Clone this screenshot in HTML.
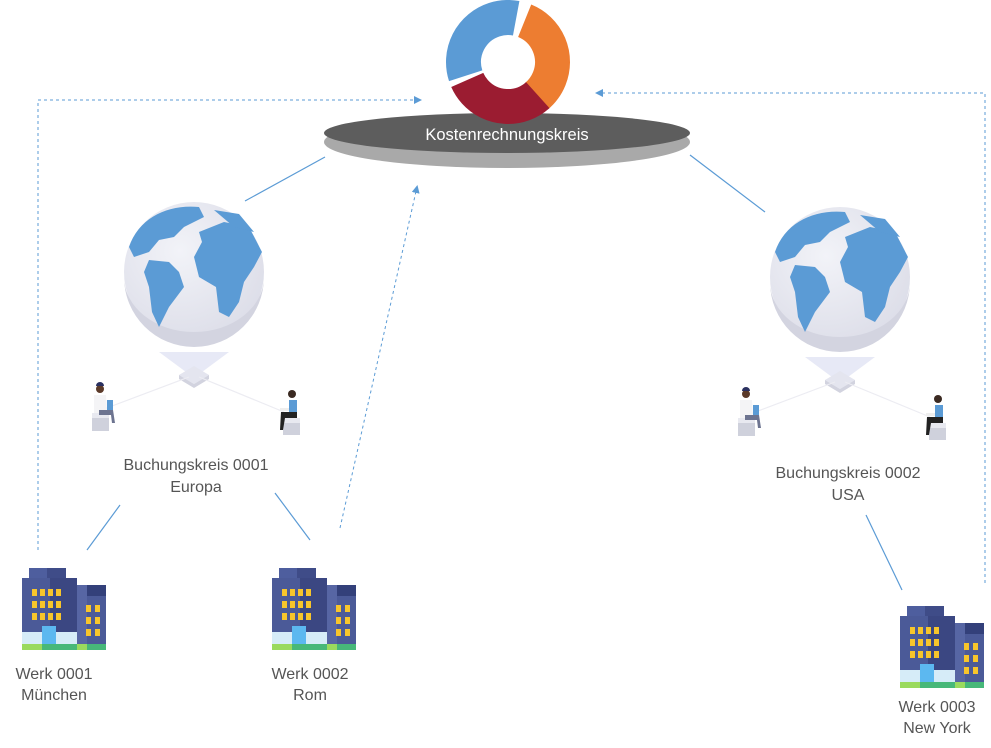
<!DOCTYPE html>
<html><head><meta charset="utf-8"><style>
html,body{margin:0;padding:0;background:#fff;}
svg{display:block;}
text{font-family:"Liberation Sans",sans-serif;}
</style></head><body>
<svg width="991" height="748" viewBox="0 0 991 748" xmlns="http://www.w3.org/2000/svg">
<defs>
<marker id="ar" markerWidth="8" markerHeight="8" refX="6" refY="4" orient="auto" markerUnits="userSpaceOnUse">
<path d="M0,0 L8,4 L0,8 z" fill="#5b9bd5"/></marker>
<g id="bld">
<rect x="7" y="0" width="18" height="11" fill="#4e5e9e"/><rect x="25" y="0" width="19" height="11" fill="#3f4c88"/>
<rect x="0" y="10" width="28" height="66" fill="#4b5a98"/><rect x="28" y="10" width="27" height="66" fill="#3b4782"/>
<g fill="#f7c52b">
<rect x="10" y="21" width="5" height="7"/><rect x="18" y="21" width="5" height="7"/><rect x="26" y="21" width="5" height="7"/><rect x="34" y="21" width="5" height="7"/>
<rect x="10" y="33" width="5" height="7"/><rect x="18" y="33" width="5" height="7"/><rect x="26" y="33" width="5" height="7"/><rect x="34" y="33" width="5" height="7"/>
<rect x="10" y="45" width="5" height="7"/><rect x="18" y="45" width="5" height="7"/><rect x="26" y="45" width="5" height="7"/><rect x="34" y="45" width="5" height="7"/>
</g>
<rect x="55" y="17" width="10" height="59" fill="#5766a4"/><rect x="65" y="17" width="19" height="11" fill="#33407a"/>
<rect x="65" y="28" width="19" height="48" fill="#4b5a98"/>
<g fill="#f7c52b"><rect x="64" y="37" width="5" height="7"/><rect x="73" y="37" width="5" height="7"/>
<rect x="64" y="49" width="5" height="7"/><rect x="73" y="49" width="5" height="7"/>
<rect x="64" y="61" width="5" height="7"/><rect x="73" y="61" width="5" height="7"/></g>
<rect x="0" y="64" width="55" height="12" fill="#d6ecf8"/>
<rect x="20" y="58" width="14" height="18" fill="#5cb8f0"/>
<rect x="0" y="76" width="84" height="6" fill="#9ada5e"/><rect x="20" y="76" width="35" height="6" fill="#47b879"/><rect x="65" y="76" width="19" height="6" fill="#47b879"/>
</g>
<radialGradient id="gl" cx="0.4" cy="0.35" r="0.7"><stop offset="0" stop-color="#f2f3f8"/><stop offset="1" stop-color="#dcdde8"/></radialGradient>
<g id="globe">
<path d="M-35,80 L35,80 L8,100 L-8,100 z" fill="#e7e9f6"/>
<circle cx="0" cy="0" r="70" fill="url(#gl)"/>
<path d="M-70,5 A70,70 0 0 0 70,5 A70,55 0 0 1 -70,5z" fill="#d3d4e0"/>
<g fill="#5b9bd5">
<path d="M-65,-25 C-55,-55 -25,-68 5,-65 L10,-55 L-10,-45 L-20,-35 L-35,-32 L-45,-20 L-60,-15 z"/>
<path d="M-45,-12 L-25,-10 L-15,0 L-10,15 L-25,35 L-35,55 L-42,40 L-45,15 L-50,0 z"/>
<path d="M5,-40 L30,-50 L55,-45 L68,-20 L60,-5 L50,10 L45,30 L35,45 L25,40 L22,15 L5,5 L0,-15 L8,-30 z"/>
<path d="M20,-62 L45,-58 L60,-40 L40,-45 z"/>
</g>
<path d="M-15,103 L0,94 L15,103 L0,112 z" fill="#e4e5ef"/><path d="M-15,103 L0,112 L15,103 L15,107 L0,116 L-15,107z" fill="#d2d3df"/>
<path d="M-5,105 L-90,137 M5,105 L90,140" stroke="#ececf2" stroke-width="1.2"/>
</g>
<g id="man">
<rect x="-11" y="10" width="17" height="16" fill="#cfd1dc"/><rect x="-11" y="8" width="17" height="5" fill="#e8e9f0"/>
<circle cx="-3" cy="-16" r="4" fill="#5b3a29"/><path d="M-7,-19 a4,4 0 0 1 8,0z" fill="#2a3060"/>
<path d="M-9,-10 L3,-10 L4,8 L-9,8z" fill="#f4f4f6"/>
<rect x="4" y="-5" width="6" height="10" fill="#5b9bd5"/>
<path d="M-4,5 L10,5 L12,18 L9,18 L8,10 L-4,10z" fill="#6d7490"/>
</g>
<g id="wom">
<rect x="-6" y="12" width="17" height="15" fill="#cfd1dc"/><rect x="-6" y="10" width="17" height="5" fill="#e8e9f0"/>
<circle cx="3" cy="-14" r="4" fill="#3b2a22"/><path d="M0,-8 L8,-8 L8,4 L0,4z" fill="#5b9bd5"/>
<path d="M-8,4 L8,4 L8,10 L-4,10 L-6,22 L-9,22z" fill="#222"/>
<rect x="-9" y="0" width="9" height="3" fill="#eee"/>
</g>
</defs>

<!-- connectors -->
<g stroke="#5b9bd5" stroke-width="1.2" fill="none">
<line x1="245" y1="201" x2="325" y2="157"/>
<line x1="87" y1="550" x2="120" y2="505"/>
<line x1="275" y1="493" x2="310" y2="540"/>
<line x1="690" y1="155" x2="765" y2="212"/>
<line x1="866" y1="515" x2="902" y2="590"/>
</g>
<g stroke="#5b9bd5" stroke-width="1" fill="none" stroke-dasharray="3,3">
<polyline points="38,550 38,100 420,100" marker-end="url(#ar)"/>
<line x1="340" y1="528" x2="417" y2="187" marker-end="url(#ar)"/>
<polyline points="985,583 985,93 597,93" marker-end="url(#ar)"/>
</g>

<!-- platform -->
<ellipse cx="507" cy="142" rx="183" ry="26" fill="#a9a9a9"/>
<ellipse cx="507" cy="133" rx="183" ry="20" fill="#5d5d5d"/>
<!-- cycle -->
<g transform="translate(508,62)" fill="none" stroke-width="35">
<circle r="44.5" stroke="#5b9bd5" stroke-dasharray="92 188" transform="rotate(162)"/>
<circle r="44.5" stroke="#ed7d31" stroke-dasharray="92 188" transform="rotate(292)"/>
<circle r="44.5" stroke="#9b1c31" stroke-dasharray="84 196" transform="rotate(48)"/>
</g>
<text x="507" y="140" font-size="16.5" fill="#fff" text-anchor="middle">Kostenrechnungskreis</text>

<use href="#globe" x="194" y="272"/>
<use href="#globe" x="840" y="277"/>
<use href="#man" x="103" y="405"/>
<use href="#wom" x="289" y="408"/>
<use href="#man" x="749" y="410"/>
<use href="#wom" x="935" y="413"/>

<g font-size="16" fill="#555" text-anchor="middle">
<text x="196" y="470">Buchungskreis 0001</text><text x="196" y="492">Europa</text>
<text x="848" y="478">Buchungskreis 0002</text><text x="848" y="500">USA</text>
<text x="54" y="679">Werk 0001</text><text x="54" y="700">München</text>
<text x="310" y="679">Werk 0002</text><text x="310" y="700">Rom</text>
<text x="937" y="712">Werk 0003</text><text x="937" y="733">New York</text>
</g>
<use href="#bld" x="22" y="568"/>
<use href="#bld" x="272" y="568"/>
<use href="#bld" x="900" y="606"/>
</svg>
</body></html>
